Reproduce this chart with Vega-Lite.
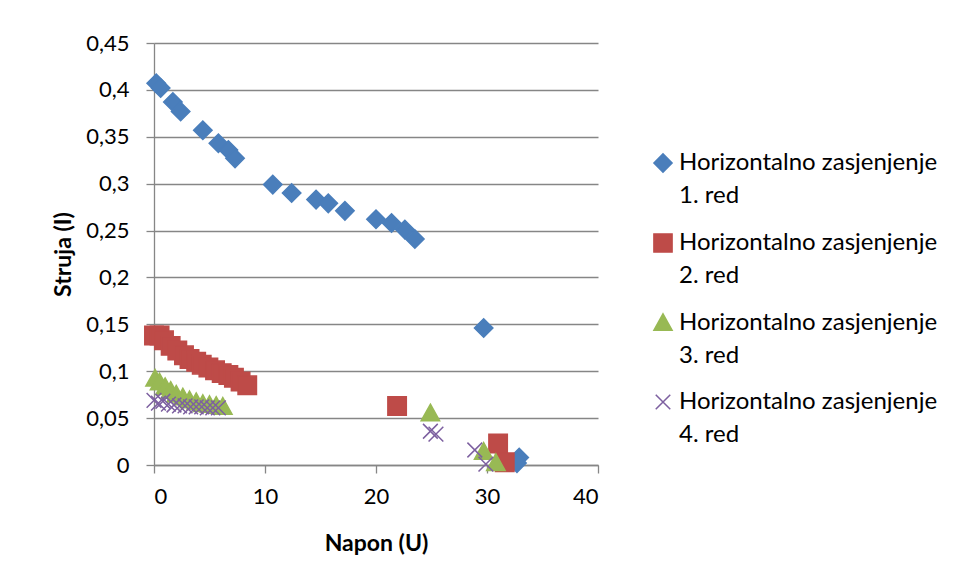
{
  "$schema": "https://vega.github.io/schema/vega-lite/v6.json",
  "width": 444,
  "height": 422,
  "autosize": {"type": "none"},
  "padding": {"left": 154, "top": 43, "right": 357, "bottom": 116},
  "background": "white",
  "config": {
    "font": "Lato",
    "view": {"stroke": null},
    "style": {"guide-label": {"lineHeight": 33}},
    "axis": {
      "labelFont": "Lato",
      "titleFont": "Lato",
      "labelFontSize": 22,
      "titleFontSize": 23,
      "labelColor": "#000000",
      "titleColor": "#000000",
      "titleFontWeight": "bold",
      "domainColor": "#868686",
      "tickColor": "#868686",
      "gridColor": "#868686",
      "domainWidth": 1.3,
      "tickWidth": 1.3,
      "gridWidth": 1.3,
      "tickSize": 8
    }
  },
  "data": {
    "values": [
      {"series": "Horizontalno zasjenjenje 1. red", "U": 0.2, "I": 0.407},
      {"series": "Horizontalno zasjenjenje 1. red", "U": 0.6, "I": 0.402},
      {"series": "Horizontalno zasjenjenje 1. red", "U": 1.7, "I": 0.387},
      {"series": "Horizontalno zasjenjenje 1. red", "U": 2.4, "I": 0.377},
      {"series": "Horizontalno zasjenjenje 1. red", "U": 4.4, "I": 0.357},
      {"series": "Horizontalno zasjenjenje 1. red", "U": 5.8, "I": 0.343},
      {"series": "Horizontalno zasjenjenje 1. red", "U": 6.7, "I": 0.336},
      {"series": "Horizontalno zasjenjenje 1. red", "U": 7.3, "I": 0.327},
      {"series": "Horizontalno zasjenjenje 1. red", "U": 10.7, "I": 0.299},
      {"series": "Horizontalno zasjenjenje 1. red", "U": 12.4, "I": 0.290},
      {"series": "Horizontalno zasjenjenje 1. red", "U": 14.6, "I": 0.283},
      {"series": "Horizontalno zasjenjenje 1. red", "U": 15.7, "I": 0.279},
      {"series": "Horizontalno zasjenjenje 1. red", "U": 17.2, "I": 0.271},
      {"series": "Horizontalno zasjenjenje 1. red", "U": 20.0, "I": 0.262},
      {"series": "Horizontalno zasjenjenje 1. red", "U": 21.4, "I": 0.258},
      {"series": "Horizontalno zasjenjenje 1. red", "U": 22.6, "I": 0.251},
      {"series": "Horizontalno zasjenjenje 1. red", "U": 23.5, "I": 0.241},
      {"series": "Horizontalno zasjenjenje 1. red", "U": 29.7, "I": 0.146},
      {"series": "Horizontalno zasjenjenje 1. red", "U": 32.9, "I": 0.008},
      {"series": "Horizontalno zasjenjenje 1. red", "U": 32.7, "I": 0.002},
      {"series": "Horizontalno zasjenjenje 2. red", "U": 0.0, "I": 0.138},
      {"series": "Horizontalno zasjenjenje 2. red", "U": 0.5, "I": 0.138},
      {"series": "Horizontalno zasjenjenje 2. red", "U": 0.9, "I": 0.133},
      {"series": "Horizontalno zasjenjenje 2. red", "U": 1.5, "I": 0.127},
      {"series": "Horizontalno zasjenjenje 2. red", "U": 2.1, "I": 0.122},
      {"series": "Horizontalno zasjenjenje 2. red", "U": 2.7, "I": 0.117},
      {"series": "Horizontalno zasjenjenje 2. red", "U": 3.2, "I": 0.113},
      {"series": "Horizontalno zasjenjenje 2. red", "U": 3.8, "I": 0.110},
      {"series": "Horizontalno zasjenjenje 2. red", "U": 4.3, "I": 0.107},
      {"series": "Horizontalno zasjenjenje 2. red", "U": 4.9, "I": 0.104},
      {"series": "Horizontalno zasjenjenje 2. red", "U": 5.5, "I": 0.101},
      {"series": "Horizontalno zasjenjenje 2. red", "U": 6.1, "I": 0.098},
      {"series": "Horizontalno zasjenjenje 2. red", "U": 6.7, "I": 0.096},
      {"series": "Horizontalno zasjenjenje 2. red", "U": 7.2, "I": 0.093},
      {"series": "Horizontalno zasjenjenje 2. red", "U": 7.8, "I": 0.089},
      {"series": "Horizontalno zasjenjenje 2. red", "U": 8.4, "I": 0.085},
      {"series": "Horizontalno zasjenjenje 2. red", "U": 21.9, "I": 0.063},
      {"series": "Horizontalno zasjenjenje 2. red", "U": 31.0, "I": 0.023},
      {"series": "Horizontalno zasjenjenje 2. red", "U": 31.6, "I": 0.003},
      {"series": "Horizontalno zasjenjenje 3. red", "U": 0.1, "I": 0.092},
      {"series": "Horizontalno zasjenjenje 3. red", "U": 0.5, "I": 0.088},
      {"series": "Horizontalno zasjenjenje 3. red", "U": 1.0, "I": 0.083},
      {"series": "Horizontalno zasjenjenje 3. red", "U": 1.5, "I": 0.079},
      {"series": "Horizontalno zasjenjenje 3. red", "U": 2.0, "I": 0.075},
      {"series": "Horizontalno zasjenjenje 3. red", "U": 2.6, "I": 0.072},
      {"series": "Horizontalno zasjenjenje 3. red", "U": 3.2, "I": 0.069},
      {"series": "Horizontalno zasjenjenje 3. red", "U": 3.8, "I": 0.067},
      {"series": "Horizontalno zasjenjenje 3. red", "U": 4.4, "I": 0.065},
      {"series": "Horizontalno zasjenjenje 3. red", "U": 5.0, "I": 0.064},
      {"series": "Horizontalno zasjenjenje 3. red", "U": 5.6, "I": 0.063},
      {"series": "Horizontalno zasjenjenje 3. red", "U": 6.2, "I": 0.062},
      {"series": "Horizontalno zasjenjenje 3. red", "U": 24.9, "I": 0.055},
      {"series": "Horizontalno zasjenjenje 3. red", "U": 29.7, "I": 0.014},
      {"series": "Horizontalno zasjenjenje 3. red", "U": 30.8, "I": 0.002},
      {"series": "Horizontalno zasjenjenje 4. red", "U": 0.0, "I": 0.069},
      {"series": "Horizontalno zasjenjenje 4. red", "U": 0.4, "I": 0.066},
      {"series": "Horizontalno zasjenjenje 4. red", "U": 0.8, "I": 0.068},
      {"series": "Horizontalno zasjenjenje 4. red", "U": 1.3, "I": 0.065},
      {"series": "Horizontalno zasjenjenje 4. red", "U": 1.8, "I": 0.064},
      {"series": "Horizontalno zasjenjenje 4. red", "U": 2.3, "I": 0.063},
      {"series": "Horizontalno zasjenjenje 4. red", "U": 2.8, "I": 0.063},
      {"series": "Horizontalno zasjenjenje 4. red", "U": 3.3, "I": 0.062},
      {"series": "Horizontalno zasjenjenje 4. red", "U": 3.8, "I": 0.062},
      {"series": "Horizontalno zasjenjenje 4. red", "U": 4.3, "I": 0.062},
      {"series": "Horizontalno zasjenjenje 4. red", "U": 4.8, "I": 0.061},
      {"series": "Horizontalno zasjenjenje 4. red", "U": 5.3, "I": 0.061},
      {"series": "Horizontalno zasjenjenje 4. red", "U": 5.8, "I": 0.061},
      {"series": "Horizontalno zasjenjenje 4. red", "U": 24.9, "I": 0.036},
      {"series": "Horizontalno zasjenjenje 4. red", "U": 25.4, "I": 0.033},
      {"series": "Horizontalno zasjenjenje 4. red", "U": 28.9, "I": 0.016},
      {"series": "Horizontalno zasjenjenje 4. red", "U": 29.9, "I": 0.001}
    ]
  },
  "mark": {"type": "point", "filled": true, "opacity": 1, "strokeWidth": 1.5, "size": 340},
  "encoding": {
    "x": {
      "field": "U", "type": "quantitative",
      "scale": {"domain": [0, 40], "nice": false, "zero": false},
      "axis": {"values": [0, 10, 20, 30, 40], "grid": false, "title": "Napon (U)", "labelPadding": 13, "titlePadding": 25}
    },
    "y": {
      "field": "I", "type": "quantitative",
      "scale": {"domain": [0, 0.45], "nice": false},
      "axis": {
        "values": [0, 0.05, 0.1, 0.15, 0.2, 0.25, 0.3, 0.35, 0.4, 0.45],
        "grid": true,
        "title": "Struja (I)",
        "labelPadding": 17,
        "titlePadding": 10,
        "labelExpr": "replace(format(datum.value, '.2~f'), '.', ',')"
      }
    },
    "color": {
      "field": "series", "type": "nominal",
      "scale": {
        "domain": ["Horizontalno zasjenjenje 1. red", "Horizontalno zasjenjenje 2. red", "Horizontalno zasjenjenje 3. red", "Horizontalno zasjenjenje 4. red"],
        "range": ["#4A7EBB", "#BE4B48", "#98B954", "#7D60A0"]
      },
      "legend": {
        "title": null,
        "orient": "none",
        "legendX": 497,
        "legendY": 108,
        "labelFont": "Lato",
        "labelFontSize": 24,
        "labelColor": "#000000",
        "labelLimit": 400,
        "labelExpr": "[slice(datum.label, 0, 24), slice(datum.label, 25)]",
        "labelBaseline": "middle",
        "rowPadding": 22,
        "symbolSize": 330,
        "symbolStrokeWidth": 1.5,
        "labelOffset": 4
      }
    },
    "stroke": {
      "field": "series", "type": "nominal",
      "scale": {
        "domain": ["Horizontalno zasjenjenje 1. red", "Horizontalno zasjenjenje 2. red", "Horizontalno zasjenjenje 3. red", "Horizontalno zasjenjenje 4. red"],
        "range": ["#4A7EBB", "#BE4B48", "#98B954", "#7D60A0"]
      },
      "legend": null
    },
    "shape": {
      "field": "series", "type": "nominal",
      "scale": {
        "domain": ["Horizontalno zasjenjenje 1. red", "Horizontalno zasjenjenje 2. red", "Horizontalno zasjenjenje 3. red", "Horizontalno zasjenjenje 4. red"],
        "range": ["diamond", "square", "M0,-1L1,0.8L-1,0.8Z", "M-0.8,-0.8L0.8,0.8M-0.8,0.8L0.8,-0.8"]
      },
      "legend": null
    }
  }
}
